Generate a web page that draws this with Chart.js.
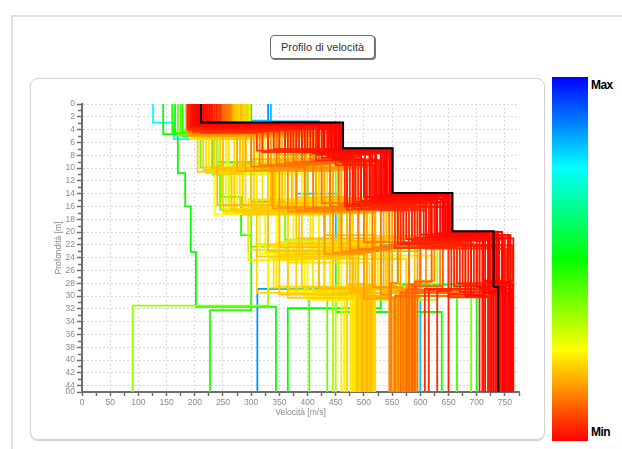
<!DOCTYPE html>
<html>
<head>
<meta charset="utf-8">
<script src="https://cdn.jsdelivr.net/npm/chart.js@4.4.1/dist/chart.umd.min.js"></script>
<style>
  html, body { margin:0; padding:0; background:#fff; width:622px; height:449px; overflow:hidden;
    font-family:"Liberation Sans", Arial, sans-serif; }
  #outer { position:absolute; left:11px; top:15px; width:700px; height:500px;
    border-top:2px solid #e0e0e0; border-left:2px solid #e0e0e0; }
  #title { position:absolute; left:270px; top:35px; width:103px; height:22px; box-sizing:content-box;
    border:1px solid #6a6a6a; border-radius:4px; box-shadow:1px 1px 0 #7a7a7a;
    font-size:11px; color:#333; line-height:22px; text-align:center; background:#fff; }
  #panel { position:absolute; left:30px; top:78px; width:513px; height:360px;
    border:1px solid #d2d2d2; border-radius:8px; box-shadow:0 1px 1px #cfcfcf; }
  #chart { position:absolute; left:30px; top:78px; }
  #bar { position:absolute; left:552px; top:77px; width:36px; height:364px;
    background:linear-gradient(to bottom,#0000ff 0%,#00ffff 25%,#00ff00 50%,#ffff00 75%,#ff0000 100%); }
  .lab { position:absolute; left:591px; font-weight:bold; font-size:12px; color:#000;
    letter-spacing:-0.6px; line-height:14px; }
</style>
</head>
<body>
<div id="outer"></div>
<div id="title">Profilo di velocità</div>
<div id="panel"></div>
<canvas id="chart" width="515" height="362"></canvas>
<div id="bar"></div>
<div class="lab" style="top:78px">Max</div>
<div class="lab" style="top:425px">Min</div>

<script>
// Axis ticks
const velocityTickValues = [0,50,100,150,200,250,300,350,400,450,500,550,600,650,700,750];
const depthTickValues = [0,2,4,6,8,10,12,14,16,18,20,22,24,26,28,30,32,34,36,38,40,42,44,45];
const depthTickLabels = ['0','2','4','6','8','10','12','14','16','18','20','22','24','26','28','30','32','34','36','38','40','42','44','00'];
const VELOCITY_MAX = 775;
const DEPTH_MAX = 45;

// Best model (black): layer velocities [m/s] and interface depths [m]
const bestVelocity = [211, 463, 551, 657, 730, 738];
const bestDepth    = [2.9, 6.9, 13.9, 19.9, 28.6];

// Misfit of each model on the colour scale (0 = Min, 100 = Max)
const misfitLevel = [
  // red
  0,0,0.4,0.4,0.8,0.8,1.3,1.3,1.7,1.7,2.1,2.1,2.5,2.5,2.9,2.9,3.3,3.3,3.8,3.8,
  0,0.4,0.8,1.3,1.7,2.1,2.5,2.9,3.3,3.8,4.2,4.2,4.6,4.6,5.0,5.0,
  // orange
  9.2,9.5,9.9,10.3,10.7,11.0,11.4,11.8,12.2,12.5,12.9,13.3,13.7,14.0,14.4,14.8,15.2,15.5,15.9,16.3,
  16.7,17.0,17.4,17.8,18.2,18.5,
  // yellow
  17.5,17.9,18.3,18.8,19.2,19.6,20,20.4,20.8,21.3,21.7,22.1,22.5,22.9,23.3,23.8,24.2,24.6,25,
  18.3,19.6,20.8,22.1,23.3,24.2,
  19.0,19.4,19.8,20.2,20.6,21.0,21.5,21.9,22.3,22.7,23.1,23.5,23.9,24.4,
  19.2,20.0,20.8,21.7,22.5,23.3,
  // green
  49.2,35.4,45.8,39.6,50,41.7,37.5,43.8,33.3,52.1,31.3,47.9,
  // cyan / blue
  75,85.4,81.3
];

// Layer velocities of each model [m/s], top layer to half-space
const modelVelocity = [
  [208,455,548,652,728,745],[205,448,540,648,735,752],[213,440,545,640,720,760],[200,460,530,655,745,730],
  [218,430,520,645,760,764],[196,452,538,630,712,740],[222,420,510,650,700,725],[203,445,500,620,755,758],
  [210,410,548,600,690,715],[226,458,525,640,765,748],[199,400,515,610,680,720],[215,435,495,625,740,762],
  [230,390,535,590,730,705],[192,425,485,650,710,735],[235,380,542,575,750,742],[207,462,505,635,670,755],
  [188,370,470,615,725,710],[224,415,528,560,695,650],[211,360,490,645,660,760],[238,450,518,595,745,615],
  [209,457,550,656,738,750],[204,450,546,650,732,757],[216,442,536,642,722,747],[198,437,532,636,757,733],
  [220,428,522,628,715,763],[194,418,512,618,705,727],[228,405,502,606,748,712],[201,395,480,585,685,738],
  [232,385,475,570,675,765],[190,375,466,565,655,630],[240,365,540,655,763,722],[214,350,510,620,700,608],
  [243,340,495,600,735,760],[197,330,482,580,665,740],[246,320,470,555,650,725],[212,310,530,610,752,758],

  [248,420,520,600,640,585],[186,405,505,585,705,575],[252,390,490,570,620,590],[190,375,470,560,690,565],
  [256,360,455,545,600,580],[195,345,440,530,680,555],[259,330,425,515,580,595],[188,315,410,500,665,570],
  [262,300,395,490,560,548],[200,435,530,610,650,587],[245,410,380,475,545,560],[192,395,515,595,635,578],
  [265,380,365,460,530,545],[197,365,500,580,625,592],[250,350,350,445,515,568],[203,335,485,565,610,583],
  [255,320,338,430,500,552],[187,305,470,550,595,575],[260,290,460,535,580,562],[194,275,445,520,565,588],
  [258,425,430,505,550,557],[199,412,415,490,535,572],[263,398,400,475,520,580],[189,385,372,460,505,548],
  [254,370,355,445,490,565],[196,355,342,430,475,590],

  [268,380,470,430,520,505],[198,250,240,350,480,498],[272,360,455,560,420,512],[194,230,300,330,445,490],
  [276,340,440,540,470,515],[200,215,265,385,505,488],[280,320,425,520,390,508],[193,205,250,310,455,495],
  [284,300,410,500,540,520],[196,270,290,365,430,470],[288,395,395,480,365,502],[199,240,320,405,500,485],
  [270,375,380,460,345,510],[202,225,345,295,410,465],[278,355,365,440,525,518],[195,290,275,420,470,492],
  [286,335,350,580,330,500],[201,260,235,345,395,478],[274,310,470,530,560,513],
  [282,285,335,470,515,497],[197,345,460,390,485,507],[266,370,305,500,380,487],[290,280,430,455,545,516],
  [192,325,255,325,440,460],[277,235,395,510,460,494],
  [262,410,300,560,480,490],[283,280,445,380,600,503],[196,360,270,455,350,511],[270,245,415,600,520,486],
  [291,395,330,470,430,508],[199,300,480,350,575,495],[275,430,360,520,310,480],[287,220,280,410,490,514],
  [194,350,420,295,540,499],[279,260,310,490,455,505],[268,385,455,430,620,491],[297,315,250,375,400,517],
  [201,400,390,540,505,483],[281,275,350,315,470,509],
  [264,340,495,455,590,496],[293,235,285,440,365,512],[191,420,340,505,420,489],[273,290,435,365,510,501],
  [289,365,265,480,340,476],[198,255,375,545,485,515],

  [144,170,183,193,202,344],[295,260,330,360,330,90],[160,232,246,282,300,227],[170,210,245,300,410,435],
  [300,350,420,480,530,365],[175,300,380,520,600,403],[290,370,450,560,640,690],[185,330,440,600,660,665],
  [298,420,500,590,630,445],[165,280,400,470,560,700],[285,310,260,420,480,450],[178,240,300,360,450,638],

  [126,163,240,330,420,470],[330,420,470,560,600,311],[335,300,380,450,540,600]
];

// Interface depths of each model [m]
const modelDepth = [
  [3.0,7.0,14.0,20.0,28.4],[3.1,7.1,14.2,20.1,28.8],[3.0,7.3,14.1,20.3,27.9],[3.2,7.2,14.4,20.0,29.2],
  [3.1,7.4,14.3,20.5,28.1],[3.3,7.6,14.6,20.2,29.5],[3.2,7.5,14.8,20.6,28.6],[3.4,8.6,14.5,20.8,27.5],
  [3.3,7.7,15.0,20.4,29.8],[3.5,9.0,14.9,21.0,28.3],[3.4,7.2,15.2,20.7,30.0],[3.6,8.2,15.1,21.2,28.9],
  [3.5,7.3,15.4,20.9,29.1],[3.7,8.4,15.3,21.4,27.8],[3.6,7.1,15.6,21.1,28.7],[3.8,9.4,15.5,21.6,29.4],
  [3.7,7.4,15.8,21.3,28.2],[3.9,8.8,15.7,21.8,29.7],[3.8,7.0,16.0,21.5,28.5],[4.0,9.6,15.9,22.0,29.0],
  [2.9,6.95,13.95,19.95,28.6],[3.0,7.1,14.1,20.1,28.0],[3.2,7.3,14.4,20.3,29.3],[3.3,7.5,14.7,20.5,28.4],
  [3.5,7.7,14.9,20.7,29.6],[3.6,7.9,15.1,20.9,28.8],[3.7,7.5,15.3,21.2,27.6],[3.8,7.2,15.6,21.4,29.9],
  [3.9,7.6,15.8,21.7,28.3],[4.0,7.3,16.0,21.9,29.2],[4.1,7.1,16.1,22.1,27.7],[4.2,7.4,16.2,22.2,28.9],
  [4.2,7.0,16.3,22.3,29.5],[4.3,7.2,16.4,22.4,28.0],[4.4,7.5,16.5,22.5,30.2],[4.5,7.3,16.6,22.6,29.0],

  [3.9,8.6,15.0,21.0,28.5],[4.0,8.8,15.2,21.3,29.0],[4.1,9.0,15.4,21.5,27.8],[4.0,9.1,15.6,21.8,29.4],
  [4.2,9.2,15.8,22.0,28.2],[4.3,9.4,16.0,22.2,30.0],[4.2,9.5,15.5,22.4,28.8],[4.4,9.6,16.2,21.6,29.6],
  [4.3,9.8,16.4,22.6,28.0],[4.5,8.7,15.1,20.8,29.2],[4.4,9.0,16.6,22.8,30.2],[4.6,9.3,15.3,21.2,28.4],
  [4.5,9.7,16.8,23.0,29.8],[4.7,9.9,15.7,21.7,27.6],[4.6,10.0,16.1,23.2,28.6],[4.8,10.1,15.9,21.9,29.4],
  [4.7,10.2,16.3,23.4,30.4],[4.9,10.3,16.5,22.1,28.1],[4.8,10.4,16.7,22.3,29.0],[5.0,10.5,16.9,22.5,29.7],
  [4.9,9.2,17.0,22.7,28.3],[5.0,9.4,16.4,22.9,29.3],[4.8,9.6,16.6,23.1,28.9],[4.9,9.8,16.8,23.3,30.0],
  [5.0,10.0,17.0,23.5,28.7],[4.7,10.2,16.2,23.7,29.5],

  [4.2,8.5,14.5,20.5,28.4],[4.4,9.6,15.8,22.4,29.2],[4.3,8.8,15.0,21.0,28.8],[4.6,10.0,16.2,23.0,29.6],
  [4.5,9.0,15.3,21.4,28.2],[4.8,10.3,16.5,23.4,30.0],[4.7,9.3,15.6,21.8,28.6],[5.0,10.6,16.8,23.8,29.4],
  [4.9,9.5,15.9,22.1,28.9],[5.1,10.8,17.0,24.1,30.3],[5.2,8.9,14.8,21.2,29.1],[5.3,9.8,16.3,22.7,29.8],
  [4.6,9.2,15.2,21.6,28.5],[5.4,10.1,16.6,24.4,30.6],[4.8,9.4,15.5,22.0,28.3],[5.5,10.4,16.9,23.1,29.5],
  [5.0,9.7,15.7,22.3,28.7],[5.2,10.7,17.2,23.6,30.1],[4.4,9.1,15.1,21.3,29.0],
  [4.9,9.9,16.0,22.5,29.3],[5.1,9.0,15.4,24.0,28.1],[4.3,9.6,16.4,21.7,29.7],[5.3,10.2,15.6,22.8,28.8],
  [5.4,10.5,17.1,23.2,30.4],[4.7,10.9,16.1,22.0,29.2],
  [4.5,8.6,15.4,22.2,28.4],[4.8,10.0,14.6,21.0,29.0],[5.0,9.3,16.8,23.5,29.8],[4.4,10.5,15.2,20.6,28.2],
  [5.2,8.8,16.0,22.6,30.2],[4.6,9.7,15.6,24.2,28.7],[4.9,9.1,17.1,21.9,29.5],[5.3,10.8,15.9,23.0,28.9],
  [4.7,9.5,14.9,22.8,30.0],[5.1,10.3,16.6,21.5,29.3],[4.5,8.7,15.3,23.7,28.5],[5.4,10.1,16.4,24.5,30.5],
  [4.8,9.4,15.8,21.1,29.1],[5.0,10.6,16.2,23.4,28.4],
  [4.4,9.0,14.7,22.4,29.6],[5.5,10.9,17.3,21.7,30.3],[4.6,8.9,16.1,23.3,28.8],[5.2,10.0,15.0,24.8,29.9],
  [4.9,9.6,16.7,22.0,28.6],[5.3,10.4,15.5,21.4,29.4],

  [4.7,10.8,16.0,23.1,31.7],[4.0,9.8,16.5,24.0,31.5],[4.5,11.0,14.5,20.5,32.2],[4.9,9.9,16.5,22.3,29.2],
  [3.3,8.0,15.0,21.5,31.9],[4.2,9.0,15.2,23.0,30.3],[3.8,8.5,14.7,21.0,29.0],[4.0,9.2,15.5,21.4,29.5],
  [3.9,8.9,15.1,21.8,30.6],[4.6,9.5,15.9,22.2,28.2],[4.4,10.4,16.6,22.1,28.8],[5.0,9.1,15.2,21.2,32.5],

  [2.9,5.5,11.0,22.0,30.0],[2.7,8.0,15.0,21.0,28.9],[2.6,9.0,14.0,22.0,30.5]
];

// Step profile: velocity constant inside each layer, jumps at each interface
function stepProfile(vel, dep) {
  const pts = [{x: vel[0], y: 0}];
  for (let i = 0; i < dep.length; i++) {
    pts.push({x: vel[i], y: dep[i]});
    pts.push({x: vel[i + 1], y: dep[i]});
  }
  pts.push({x: vel[vel.length - 1], y: DEPTH_MAX});
  return pts;
}

function misfitColor(level) {
  return 'hsl(' + (2.4 * level).toFixed(1) + ',100%,50%)';
}

// First dataset is painted last, so order: best model, then increasing misfit
const order = misfitLevel.map((_, i) => i).sort((a, b) => misfitLevel[a] - misfitLevel[b]);
const datasets = [{
  data: stepProfile(bestVelocity, bestDepth),
  borderColor: '#000', borderWidth: 2
}].concat(order.map(i => ({
  data: stepProfile(modelVelocity[i], modelDepth[i]),
  borderColor: misfitColor(misfitLevel[i]),
  borderWidth: 1.8
})));

// Velocity ticks every 25 m/s (labels on the 50 m/s ones)
const velocityAllTicks = [];
velocityTickValues.forEach((v, i) => {
  velocityAllTicks.push(v);
  const next = i + 1 < velocityTickValues.length ? velocityTickValues[i + 1] : VELOCITY_MAX + 25;
  if ((v + next) / 2 <= VELOCITY_MAX) velocityAllTicks.push((v + next) / 2);
});

const AXIS = '#6e6e6e';
const GRID = '#d9d9d9';
const TEXT = '#8a8a8a';
const FONT = 'Liberation Sans, Arial, sans-serif';

const minorDepthTicks = {
  id: 'minorDepthTicks',
  afterDraw(chart) {
    const ys = chart.scales.y, ctx = chart.ctx, left = chart.chartArea.left - 1;
    ctx.save();
    ctx.strokeStyle = AXIS;
    ctx.lineWidth = 1.5;
    for (let i = 0; i + 1 < depthTickValues.length; i++) {
      if (depthTickValues[i + 1] - depthTickValues[i] !== 2) continue;
      const py = Math.round(ys.getPixelForValue(depthTickValues[i] + 1)) + 0.5;
      ctx.beginPath();
      ctx.moveTo(left - 3, py);
      ctx.lineTo(left, py);
      ctx.stroke();
    }
    ctx.restore();
  }
};

new Chart(document.getElementById('chart'), {
  type: 'scatter',
  data: { datasets },
  plugins: [minorDepthTicks],
  options: {
    responsive: false,
    animation: false,
    events: [],
    showLine: true,
    layout: { padding: { left: 0, right: 26, top: 26, bottom: 18 } },
    plugins: { legend: { display: false }, tooltip: { enabled: false } },
    elements: { point: { radius: 0 }, line: { tension: 0, fill: false, borderJoinStyle: 'miter' } },
    scales: {
      x: {
        type: 'linear', position: 'bottom', min: 0, max: VELOCITY_MAX,
        afterBuildTicks(s) { s.ticks = velocityAllTicks.map(v => ({ value: v })); },
        afterFit(s) { s.height = 30; },
        ticks: {
          autoSkip: false, maxRotation: 0, padding: 2, color: TEXT,
          font: { family: FONT, size: 8.5 },
          callback: v => velocityTickValues.includes(v) ? String(v) : ''
        },
        grid: {
          color: c => (c.tick && c.tick.value > 0 && velocityTickValues.includes(c.tick.value)) ? GRID : 'rgba(0,0,0,0)',
          lineWidth: 1, tickLength: 4, tickColor: AXIS, tickWidth: 1.5, tickBorderDash: []
        },
        border: { display: true, color: AXIS, width: 2, dash: [2, 2] },
        title: { display: true, text: 'Velocità [m/s]', color: TEXT,
          font: { family: FONT, size: 8.5 }, padding: { top: 0, bottom: 4 } }
      },
      y: {
        type: 'linear', reverse: true, min: 0, max: DEPTH_MAX,
        afterBuildTicks(s) { s.ticks = depthTickValues.map(v => ({ value: v })); },
        afterFit(s) { s.width = 52; },
        ticks: {
          autoSkip: false, padding: 2, color: TEXT,
          font: { family: FONT, size: 8.5 },
          callback: (v, i) => depthTickLabels[i]
        },
        grid: {
          color: c => (c.tick && c.tick.value < DEPTH_MAX) ? GRID : 'rgba(0,0,0,0)',
          lineWidth: 1, tickLength: 5, tickColor: AXIS, tickWidth: 1.5, tickBorderDash: []
        },
        border: { display: true, color: AXIS, width: 2, dash: [2, 2] },
        title: { display: true, text: 'Profondità [m]', color: TEXT,
          font: { family: FONT, size: 8.5 }, padding: { top: 24, bottom: 0 } }
      }
    }
  }
});
</script>
</body>
</html>
